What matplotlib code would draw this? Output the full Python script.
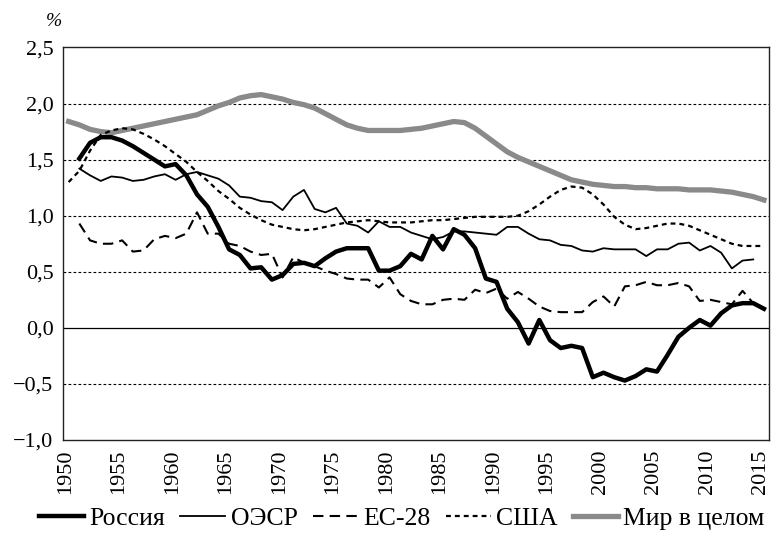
import matplotlib
matplotlib.use("Agg")
import matplotlib.pyplot as plt
import numpy as np

plt.rcParams["font.family"] = ["Liberation Serif", "DejaVu Serif"]

years = list(range(1950, 2016))
tick_years = [1950, 1955, 1960, 1965, 1970, 1975, 1980, 1985, 1990, 1995,
              2000, 2005, 2010, 2015]
y_ticks = [-1.0, -0.5, 0.0, 0.5, 1.0, 1.5, 2.0, 2.5]
y_tick_labels = ["\u22121,0", "\u22120,5", "0,0", "0,5", "1,0", "1,5", "2,0", "2,5"]

# Россия, 1951-2015
russia = [None,
          1.51, 1.65, 1.70, 1.70, 1.67, 1.62, 1.56, 1.50, 1.44, 1.46,
          1.36, 1.19, 1.08, 0.90, 0.70, 0.65, 0.53, 0.54, 0.43, 0.47,
          0.57, 0.58, 0.55, 0.62, 0.68, 0.71, 0.71, 0.71, 0.51, 0.51,
          0.55, 0.66, 0.61, 0.82, 0.70, 0.88, 0.83, 0.71, 0.44, 0.41,
          0.17, 0.05, -0.14, 0.07, -0.11, -0.18, -0.16, -0.18, -0.44, -0.40,
          -0.44, -0.47, -0.43, -0.37, -0.39, -0.24, -0.08, 0.00, 0.07, 0.02,
          0.13, 0.20, 0.22, 0.22, 0.17]

# ОЭСР, 1951-2014
oecd = [None,
        1.42, 1.36, 1.31, 1.35, 1.34, 1.31, 1.32, 1.35, 1.37, 1.32,
        1.37, 1.39, 1.36, 1.33, 1.27, 1.17, 1.16, 1.13, 1.12, 1.05,
        1.17, 1.23, 1.06, 1.03, 1.07, 0.93, 0.91, 0.85, 0.95, 0.90,
        0.90, 0.85, 0.82, 0.79, 0.81, 0.86, 0.86, 0.85, 0.84, 0.83,
        0.90, 0.90, 0.84, 0.79, 0.78, 0.74, 0.73, 0.69, 0.68, 0.71,
        0.70, 0.70, 0.70, 0.64, 0.70, 0.70, 0.75, 0.76, 0.69, 0.73,
        0.67, 0.53, 0.60, 0.61, None]

# ЕС-28, 1951-2014
eu28 = [None,
        0.93, 0.78, 0.75, 0.75, 0.78, 0.68, 0.69, 0.79, 0.82, 0.80,
        0.84, 1.03, 0.84, 0.84, 0.75, 0.73, 0.68, 0.65, 0.66, 0.45,
        0.63, 0.58, 0.55, 0.51, 0.48, 0.44, 0.43, 0.43, 0.36, 0.45,
        0.30, 0.24, 0.21, 0.21, 0.25, 0.26, 0.25, 0.34, 0.31, 0.35,
        0.26, 0.32, 0.26, 0.19, 0.15, 0.14, 0.14, 0.14, 0.23, 0.28,
        0.19, 0.37, 0.38, 0.41, 0.38, 0.38, 0.40, 0.37, 0.24, 0.25,
        0.23, 0.21, 0.33, 0.22, None]

# США, 1950-2015
usa = [1.30, 1.40, 1.58, 1.72, 1.76, 1.78, 1.77, 1.73, 1.68, 1.62,
       1.55, 1.48, 1.39, 1.31, 1.22, 1.15, 1.07, 1.01, 0.96, 0.92,
       0.90, 0.88, 0.87, 0.88, 0.90, 0.92, 0.94, 0.95, 0.96, 0.95,
       0.94, 0.94, 0.94, 0.95, 0.96, 0.96, 0.97, 0.98, 0.99, 0.99,
       0.99, 0.99, 1.00, 1.04, 1.10, 1.17, 1.23, 1.26, 1.25, 1.19,
       1.10, 0.99, 0.92, 0.88, 0.89, 0.91, 0.93, 0.93, 0.91, 0.87,
       0.83, 0.79, 0.75, 0.73, 0.73, 0.73]

# Мир в целом, 1950-2015
world = [1.84, 1.81, 1.77, 1.75, 1.74, 1.76, 1.78, 1.80, 1.82, 1.84,
         1.86, 1.88, 1.90, 1.94, 1.98, 2.01, 2.05, 2.07, 2.08, 2.06,
         2.04, 2.01, 1.99, 1.96, 1.91, 1.86, 1.81, 1.78, 1.76, 1.76,
         1.76, 1.76, 1.77, 1.78, 1.80, 1.82, 1.84, 1.83, 1.78, 1.71,
         1.64, 1.57, 1.52, 1.48, 1.44, 1.40, 1.36, 1.32, 1.30, 1.28,
         1.27, 1.26, 1.26, 1.25, 1.25, 1.24, 1.24, 1.24, 1.23, 1.23,
         1.23, 1.22, 1.21, 1.19, 1.17, 1.14]


def arr(values):
    return np.array([np.nan if v is None else v for v in values], dtype=float)


fig = plt.figure(figsize=(7.71, 5.33), dpi=100)
ax = fig.add_axes([0.0821, 0.1745, 0.9157, 0.7364])

# grid
for yv in y_ticks[1:-1]:
    if yv == 0.0:
        ax.axhline(yv, color="black", lw=0.9, zorder=1)
    else:
        ax.axhline(yv, color="black", lw=0.8, linestyle=(0, (2.5, 2)), zorder=1)

ax.plot(years, arr(world), color="#8a8a8a", lw=3.8, label="Мир в целом", zorder=2)
ax.plot(years, arr(russia), color="black", lw=3.2, label="Россия", zorder=3)
ax.plot(years, arr(oecd), color="black", lw=1.3, label="ОЭСР", zorder=3)
ax.plot(years, arr(eu28), color="black", lw=1.5, dashes=(5, 3), label="ЕС-28", zorder=3)
ax.plot(years, arr(usa), color="black", lw=1.6, dashes=(2.2, 1.8), label="США", zorder=3)

ax.set_xlim(1949.5, 2015.5)
ax.set_ylim(-1.0, 2.5)
# labels sit slightly left of the data points, as in the source
ax.set_xticks([y - 0.3 for y in tick_years])
ax.set_xticklabels([str(y) for y in tick_years], rotation=90, fontsize=16)
ax.set_yticks(y_ticks)
ax.set_yticklabels(y_tick_labels, fontsize=16)
ax.tick_params(axis="x", length=0, pad=7)
ax.tick_params(axis="y", length=0, pad=7)
for s in ax.spines.values():
    s.set_linewidth(1.0)
    s.set_color("#222222")

fig.text(0.07, 0.96, "%", fontsize=14, style="italic", ha="center", va="center")

handles, labels = ax.get_legend_handles_labels()
order = [1, 2, 3, 4, 0]
fig.legend([handles[i] for i in order], [labels[i] for i in order],
           loc="center", bbox_to_anchor=(0.521, 0.028), ncol=5,
           frameon=False, fontsize=18.5, handlelength=1.75, handletextpad=0.2,
           columnspacing=0.6, borderpad=0.1)

fig.savefig("out.png", dpi=100)
